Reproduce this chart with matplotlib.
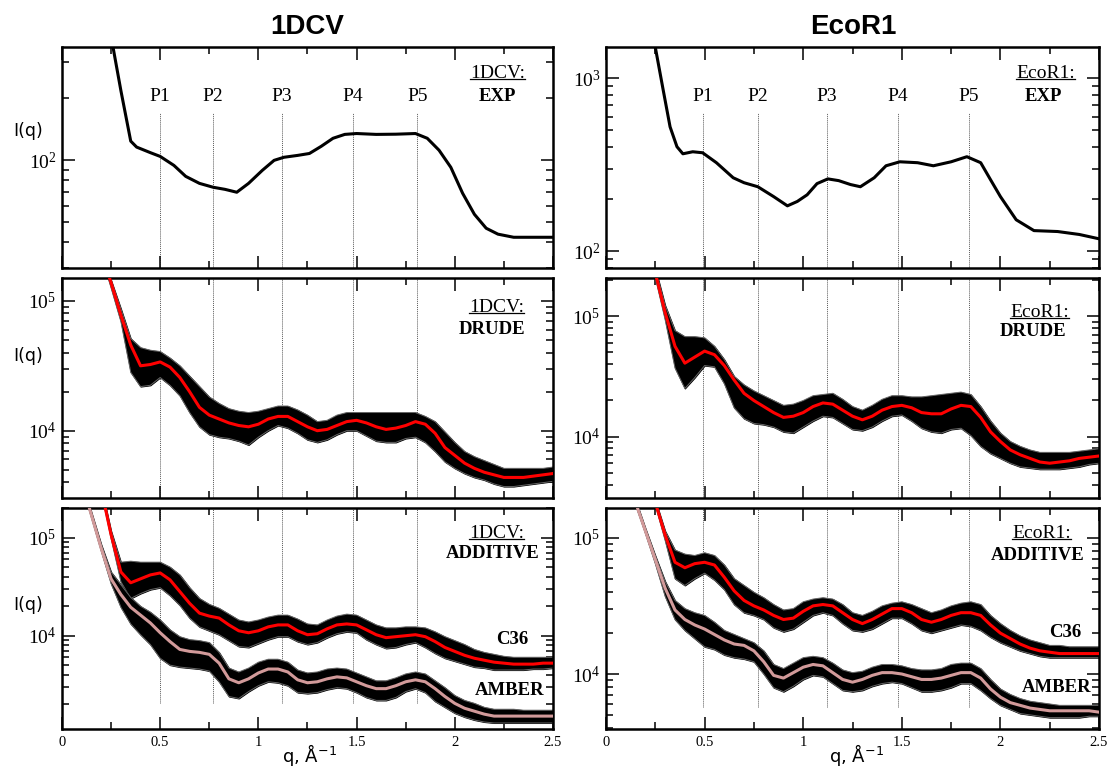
import numpy as np
import matplotlib
matplotlib.use("Agg")
import matplotlib.pyplot as plt
from matplotlib.ticker import MultipleLocator, LogLocator, NullFormatter, FormatStrFormatter
from matplotlib.lines import Line2D

plt.rcParams['font.family'] = ['Liberation Serif', 'DejaVu Serif']
plt.rcParams['mathtext.fontset'] = 'stix'
plt.rcParams['lines.solid_joinstyle'] = 'round'

# ---------------- data ----------------
# peak positions (q, 1/A)
peak_names = ["P1", "P2", "P3", "P4", "P5"]
peaks_1dcv = [0.50, 0.77, 1.12, 1.48, 1.81]
peaks_ecor1 = [0.49, 0.77, 1.12, 1.48, 1.84]

# experimental curves, I(q)
exp_1dcv_q = [0.20, 0.26, 0.30, 0.35, 0.38, 0.45, 0.50, 0.57, 0.63, 0.70, 0.77, 0.83,
              0.89, 0.95, 1.02, 1.08, 1.13, 1.20, 1.26, 1.32, 1.38, 1.44, 1.50, 1.60,
              1.70, 1.80, 1.86, 1.92, 1.98, 2.04, 2.10, 2.16, 2.22, 2.30, 2.40, 2.50]
exp_1dcv_I = [740, 354, 218, 124, 116, 109, 104.5, 94.5, 83.6, 77.3, 74, 72.3,
              70, 77.3, 89.4, 100, 103.5, 105.7, 108, 117, 128, 133.7, 135, 133.7,
              134, 135, 128, 112, 92.5, 69.2, 54.7, 46.8, 43.8, 42.3, 42.3, 42.3]

exp_ecor1_q = [0.20, 0.25, 0.29, 0.325, 0.36, 0.39, 0.44, 0.49, 0.56, 0.645, 0.70, 0.77,
               0.85, 0.92, 0.97, 1.02, 1.07, 1.125, 1.18, 1.24, 1.29, 1.36, 1.42, 1.49,
               1.58, 1.66, 1.75, 1.83, 1.90, 1.95, 2.00, 2.08, 2.17, 2.29, 2.40, 2.50]
exp_ecor1_I = [3090, 1514, 857, 524, 402, 366, 376, 371, 325, 266, 249, 236,
               207, 183, 194, 212, 246, 262, 256, 243, 236, 266, 312, 329,
               325, 312, 329, 352, 325, 259, 207, 152, 131.6, 130, 125, 118]

# q grid of the simulated ensembles
q = [0.10, 0.15, 0.20, 0.25, 0.30, 0.35, 0.40, 0.45, 0.50, 0.55,
     0.60, 0.65, 0.70, 0.75, 0.80, 0.85, 0.90, 0.95, 1.00, 1.05,
     1.10, 1.15, 1.20, 1.25, 1.30, 1.35, 1.40, 1.45, 1.50, 1.55,
     1.60, 1.65, 1.70, 1.75, 1.80, 1.85, 1.90, 1.95, 2.00, 2.05,
     2.10, 2.15, 2.20, 2.25, 2.30, 2.35, 2.40, 2.45, 2.50]

# ensembles, log10 I(q): mean curve, top and bottom of the black band
drude_1dcv_mid = [5.83, 5.60, 5.37, 5.14, 4.89, 4.66, 4.50, 4.51, 4.53, 4.49,
                  4.41, 4.30, 4.18, 4.12, 4.09, 4.06, 4.04, 4.03, 4.05, 4.09,
                  4.11, 4.11, 4.07, 4.03, 4.00, 4.01, 4.04, 4.07, 4.08, 4.06,
                  4.03, 4.01, 4.02, 4.04, 4.07, 4.05, 3.98, 3.87, 3.81, 3.75,
                  3.71, 3.68, 3.66, 3.64, 3.64, 3.64, 3.65, 3.66, 3.67]
drude_1dcv_hi = [5.86, 5.63, 5.40, 5.16, 4.94, 4.71, 4.64, 4.62, 4.61, 4.56,
                 4.50, 4.42, 4.34, 4.26, 4.21, 4.17, 4.15, 4.14, 4.15, 4.17,
                 4.19, 4.19, 4.16, 4.12, 4.07, 4.08, 4.12, 4.14, 4.14, 4.14,
                 4.14, 4.14, 4.14, 4.14, 4.14, 4.11, 4.07, 3.99, 3.91, 3.84,
                 3.80, 3.77, 3.74, 3.71, 3.71, 3.71, 3.71, 3.71, 3.72]
drude_1dcv_lo = [5.81, 5.58, 5.35, 5.10, 4.84, 4.45, 4.34, 4.35, 4.41, 4.35,
                 4.27, 4.14, 4.03, 3.97, 3.95, 3.94, 3.92, 3.89, 3.95, 4.00,
                 4.04, 4.02, 3.98, 3.93, 3.91, 3.93, 3.97, 4.00, 4.00, 3.96,
                 3.92, 3.91, 3.91, 3.94, 3.95, 3.91, 3.84, 3.76, 3.71, 3.67,
                 3.64, 3.62, 3.59, 3.57, 3.57, 3.58, 3.59, 3.60, 3.61]

drude_ecor1_mid = [6.35, 6.02, 5.69, 5.36, 5.03, 4.75, 4.61, 4.66, 4.71, 4.68,
                   4.59, 4.47, 4.36, 4.30, 4.25, 4.20, 4.16, 4.17, 4.20, 4.25,
                   4.28, 4.27, 4.22, 4.17, 4.14, 4.17, 4.22, 4.25, 4.26, 4.24,
                   4.20, 4.19, 4.19, 4.23, 4.26, 4.25, 4.16, 4.04, 3.96, 3.89,
                   3.85, 3.82, 3.79, 3.78, 3.79, 3.80, 3.82, 3.83, 3.84]
drude_ecor1_hi = [6.37, 6.04, 5.71, 5.40, 5.09, 4.88, 4.83, 4.83, 4.82, 4.75,
                  4.64, 4.50, 4.43, 4.38, 4.34, 4.30, 4.26, 4.27, 4.30, 4.34,
                  4.35, 4.36, 4.31, 4.25, 4.22, 4.26, 4.31, 4.34, 4.34, 4.33,
                  4.33, 4.34, 4.35, 4.36, 4.37, 4.35, 4.25, 4.13, 4.03, 3.96,
                  3.92, 3.89, 3.87, 3.87, 3.87, 3.87, 3.88, 3.89, 3.90]
drude_ecor1_lo = [6.32, 5.99, 5.66, 5.32, 4.97, 4.57, 4.40, 4.49, 4.59, 4.58,
                  4.44, 4.24, 4.15, 4.11, 4.10, 4.08, 4.04, 4.03, 4.08, 4.13,
                  4.17, 4.16, 4.11, 4.06, 4.05, 4.08, 4.13, 4.17, 4.18, 4.13,
                  4.07, 4.04, 4.03, 4.06, 4.07, 4.01, 3.92, 3.86, 3.82, 3.78,
                  3.75, 3.74, 3.73, 3.73, 3.73, 3.74, 3.75, 3.77, 3.78]

c36_1dcv_mid = [6.41, 5.95, 5.49, 5.03, 4.65, 4.54, 4.58, 4.62, 4.64, 4.57,
                4.45, 4.33, 4.23, 4.20, 4.18, 4.11, 4.05, 4.03, 4.05, 4.09,
                4.11, 4.11, 4.05, 4.01, 4.02, 4.07, 4.11, 4.12, 4.11, 4.06,
                4.01, 3.98, 3.99, 4.00, 4.01, 3.99, 3.94, 3.88, 3.84, 3.80,
                3.77, 3.75, 3.73, 3.72, 3.71, 3.71, 3.71, 3.72, 3.72]
c36_1dcv_hi = [6.44, 5.98, 5.52, 5.07, 4.75, 4.76, 4.75, 4.75, 4.75, 4.70,
               4.62, 4.49, 4.38, 4.32, 4.28, 4.22, 4.16, 4.14, 4.16, 4.19,
               4.21, 4.21, 4.17, 4.12, 4.11, 4.16, 4.20, 4.22, 4.21, 4.16,
               4.11, 4.08, 4.08, 4.09, 4.09, 4.08, 4.04, 3.99, 3.95, 3.91,
               3.86, 3.83, 3.81, 3.79, 3.78, 3.78, 3.78, 3.78, 3.78]
c36_1dcv_lo = [6.38, 5.92, 5.46, 4.99, 4.55, 4.38, 4.43, 4.47, 4.49, 4.41,
               4.31, 4.18, 4.09, 4.05, 4.01, 3.95, 3.89, 3.88, 3.92, 3.96,
               3.99, 3.99, 3.94, 3.91, 3.93, 3.98, 4.02, 4.04, 4.03, 3.96,
               3.91, 3.87, 3.88, 3.91, 3.93, 3.88, 3.82, 3.77, 3.74, 3.71,
               3.68, 3.67, 3.65, 3.65, 3.65, 3.65, 3.66, 3.66, 3.67]

amber_1dcv_mid = [5.57, 5.23, 4.89, 4.58, 4.42, 4.29, 4.21, 4.13, 4.03, 3.94,
                  3.86, 3.84, 3.83, 3.81, 3.72, 3.56, 3.52, 3.56, 3.62, 3.66,
                  3.66, 3.63, 3.55, 3.52, 3.53, 3.56, 3.58, 3.57, 3.53, 3.49,
                  3.46, 3.46, 3.49, 3.53, 3.55, 3.53, 3.46, 3.38, 3.31, 3.26,
                  3.23, 3.20, 3.18, 3.18, 3.18, 3.18, 3.18, 3.18, 3.18]
amber_1dcv_hi = [5.60, 5.26, 4.93, 4.65, 4.52, 4.39, 4.30, 4.24, 4.16, 4.06,
                 3.99, 3.96, 3.95, 3.93, 3.83, 3.67, 3.63, 3.67, 3.73, 3.76,
                 3.76, 3.73, 3.65, 3.62, 3.63, 3.66, 3.67, 3.66, 3.62, 3.58,
                 3.54, 3.54, 3.57, 3.61, 3.63, 3.61, 3.54, 3.47, 3.39, 3.34,
                 3.31, 3.27, 3.25, 3.25, 3.25, 3.24, 3.24, 3.24, 3.24]
amber_1dcv_lo = [5.54, 5.20, 4.86, 4.53, 4.29, 4.12, 4.01, 3.91, 3.77, 3.70,
                 3.68, 3.67, 3.66, 3.64, 3.53, 3.38, 3.36, 3.43, 3.49, 3.53,
                 3.52, 3.49, 3.42, 3.41, 3.42, 3.45, 3.47, 3.46, 3.42, 3.37,
                 3.34, 3.34, 3.37, 3.43, 3.46, 3.42, 3.33, 3.27, 3.21, 3.17,
                 3.14, 3.12, 3.11, 3.11, 3.11, 3.11, 3.11, 3.11, 3.11]

c36_ecor1_mid = [5.98, 5.74, 5.50, 5.26, 5.02, 4.82, 4.78, 4.81, 4.82, 4.80,
                 4.71, 4.61, 4.54, 4.50, 4.47, 4.43, 4.40, 4.41, 4.46, 4.50,
                 4.51, 4.50, 4.45, 4.40, 4.37, 4.40, 4.44, 4.48, 4.48, 4.45,
                 4.40, 4.38, 4.40, 4.43, 4.45, 4.45, 4.43, 4.36, 4.30, 4.26,
                 4.22, 4.19, 4.17, 4.16, 4.15, 4.15, 4.15, 4.15, 4.15]
c36_ecor1_hi = [6.00, 5.76, 5.52, 5.28, 5.05, 4.91, 4.88, 4.87, 4.89, 4.87,
                4.80, 4.70, 4.65, 4.60, 4.56, 4.51, 4.47, 4.48, 4.53, 4.55,
                4.56, 4.55, 4.51, 4.45, 4.43, 4.46, 4.50, 4.52, 4.53, 4.51,
                4.48, 4.45, 4.47, 4.50, 4.52, 4.53, 4.51, 4.43, 4.37, 4.32,
                4.28, 4.25, 4.23, 4.21, 4.21, 4.20, 4.20, 4.20, 4.20]
c36_ecor1_lo = [5.95, 5.71, 5.47, 5.24, 4.98, 4.70, 4.65, 4.70, 4.74, 4.69,
                4.62, 4.51, 4.45, 4.43, 4.40, 4.34, 4.31, 4.33, 4.38, 4.43,
                4.45, 4.43, 4.37, 4.32, 4.31, 4.33, 4.37, 4.41, 4.41, 4.37,
                4.32, 4.30, 4.32, 4.34, 4.36, 4.35, 4.32, 4.27, 4.23, 4.20,
                4.17, 4.15, 4.13, 4.12, 4.12, 4.12, 4.12, 4.12, 4.12]

amber_ecor1_mid = [5.47, 5.26, 5.05, 4.84, 4.63, 4.47, 4.40, 4.36, 4.33, 4.29,
                   4.25, 4.22, 4.21, 4.17, 4.09, 3.99, 3.97, 4.01, 4.05, 4.07,
                   4.06, 4.01, 3.96, 3.94, 3.96, 3.99, 4.01, 4.01, 4.00, 3.98,
                   3.96, 3.96, 3.97, 3.99, 4.01, 4.01, 3.97, 3.89, 3.83, 3.79,
                   3.77, 3.75, 3.74, 3.73, 3.73, 3.73, 3.73, 3.73, 3.72]
amber_ecor1_hi = [5.49, 5.28, 5.07, 4.87, 4.68, 4.54, 4.48, 4.45, 4.43, 4.38,
                  4.32, 4.29, 4.26, 4.23, 4.17, 4.07, 4.04, 4.08, 4.12, 4.13,
                  4.12, 4.08, 4.03, 4.01, 4.02, 4.05, 4.07, 4.07, 4.06, 4.04,
                  4.03, 4.03, 4.04, 4.07, 4.08, 4.08, 4.04, 3.96, 3.89, 3.85,
                  3.82, 3.80, 3.79, 3.78, 3.77, 3.77, 3.77, 3.77, 3.77]
amber_ecor1_lo = [5.45, 5.24, 5.03, 4.81, 4.57, 4.40, 4.32, 4.26, 4.20, 4.18,
                  4.14, 4.12, 4.11, 4.09, 4.00, 3.90, 3.87, 3.91, 3.96, 3.99,
                  3.98, 3.93, 3.88, 3.87, 3.88, 3.91, 3.93, 3.94, 3.93, 3.90,
                  3.87, 3.87, 3.88, 3.90, 3.93, 3.93, 3.88, 3.82, 3.77, 3.74,
                  3.71, 3.70, 3.69, 3.68, 3.68, 3.68, 3.68, 3.69, 3.69]

# ---------------- figure ----------------
fig = plt.figure(figsize=(11.07, 7.67), dpi=100)

col_x = [0.056, 0.5474]
col_w = [0.4435, 0.4454]
row_y = [0.6506, 0.3507, 0.0495]
row_h = [0.288, 0.2868, 0.288]

columns = [
    dict(name="1DCV", peaks=peaks_1dcv, qe=exp_1dcv_q, Ie=exp_1dcv_I,
         drude=(drude_1dcv_mid, drude_1dcv_hi, drude_1dcv_lo),
         c36=(c36_1dcv_mid, c36_1dcv_hi, c36_1dcv_lo),
         amber=(amber_1dcv_mid, amber_1dcv_hi, amber_1dcv_lo),
         ylims=[(30, 355), (3030, 1.5e5), (1117, 2.0e5)],
         tags=[(0.888, 0.882, 0.886, 0.778), (0.886, 0.868, 0.876, 0.768),
               (0.886, 0.887, 0.878, 0.796)],
         c36_xy=(0.918, 0.407), amber_xy=(0.912, 0.176), vmin=0.118),
    dict(name="EcoR1", peaks=peaks_ecor1, qe=exp_ecor1_q, Ie=exp_ecor1_I,
         drude=(drude_ecor1_mid, drude_ecor1_hi, drude_ecor1_lo),
         c36=(c36_ecor1_mid, c36_ecor1_hi, c36_ecor1_lo),
         amber=(amber_ecor1_mid, amber_ecor1_hi, amber_ecor1_lo),
         ylims=[(80, 1515), (3100, 2.07e5), (3945, 1.65e5)],
         tags=[(0.892, 0.882, 0.888, 0.778), (0.880, 0.845, 0.866, 0.755),
               (0.884, 0.887, 0.876, 0.787)],
         c36_xy=(0.931, 0.439), amber_xy=(0.915, 0.19), vmin=0.10),
]
kinds = ["EXP", "DRUDE", "ADDITIVE"]

underlined = []


def setup(ax, ylim, bottom):
    ax.set_yscale('log')
    ax.set_xlim(0, 2.5)
    ax.set_ylim(*ylim)
    ax.xaxis.set_major_locator(MultipleLocator(0.5))
    ax.xaxis.set_minor_locator(MultipleLocator(0.25))
    ax.xaxis.set_major_formatter(FormatStrFormatter('%g'))
    ax.yaxis.set_major_locator(LogLocator(base=10))
    ax.yaxis.set_minor_locator(LogLocator(base=10, subs=np.arange(2, 10)))
    ax.yaxis.set_minor_formatter(NullFormatter())
    ax.tick_params(which='both', direction='in', top=True, right=True, width=1.1)
    ax.tick_params(which='major', length=9, pad=4)
    ax.tick_params(which='minor', length=5)
    ax.tick_params(axis='y', labelsize=14)
    ax.tick_params(axis='x', labelsize=10.5, pad=5, labelbottom=bottom)
    for s in ax.spines.values():
        s.set_linewidth(1.8)


def band(ax, mid, hi, lo, color):
    hi = 10 ** np.array(hi)
    lo = 10 ** np.array(lo)
    ax.fill_between(q, lo, hi, color='black', lw=0.8, zorder=2)
    ax.plot(q, hi, color='0.4', lw=0.7, zorder=2)
    ax.plot(q, lo, color='0.4', lw=0.7, zorder=2)
    ax.plot(q, 10 ** np.array(mid), color=color, lw=2.2, zorder=3)


for c, col in enumerate(columns):
    axes = []
    for r in range(3):
        ax = fig.add_axes([col_x[c], row_y[r], col_w[c], row_h[r]])
        setup(ax, col["ylims"][r], r == 2)
        axes.append(ax)

        tx, ty, kx, ky = col["tags"][r]
        t = ax.text(tx, ty, col["name"] + ":", transform=ax.transAxes,
                    ha='center', va='center', fontsize=14)
        underlined.append(t)
        ax.text(kx, ky, kinds[r], transform=ax.transAxes, ha='center',
                va='center', fontsize=13.5, fontweight='bold')

        if c == 0:
            ax.set_ylabel("I(q)", rotation=0, family='DejaVu Sans', fontsize=12.5,
                          ha='center', va='center')
            ax.yaxis.set_label_coords(-0.069, [0.62, 0.645, 0.56][r])

    # experiment
    ax = axes[0]
    ax.plot(col["qe"], col["Ie"], color='black', lw=2.2, zorder=3)
    for p, name in zip(col["peaks"], peak_names):
        ax.axvline(p, ymin=0, ymax=0.70, color='0.35', lw=0.7, ls=(0, (1, 1)), zorder=1)
        ax.text(p, 0.775, name, transform=ax.get_xaxis_transform(),
                ha='center', va='center', fontsize=14)

    # Drude ensemble
    ax = axes[1]
    band(ax, *col["drude"], color='#ff0000')
    for p in col["peaks"]:
        ax.axvline(p, color='0.35', lw=0.7, ls=(0, (1, 1)), zorder=1)

    # additive force fields
    ax = axes[2]
    band(ax, *col["c36"], color='#ff0000')
    band(ax, *col["amber"], color='#d29a9a')
    for p in col["peaks"]:
        ax.axvline(p, ymin=col["vmin"], ymax=1, color='0.35', lw=0.7,
                   ls=(0, (1, 1)), zorder=1)
    ax.text(*col["c36_xy"], "C36", transform=ax.transAxes, ha='center',
            va='center', fontsize=13.5, fontweight='bold')
    ax.text(*col["amber_xy"], "AMBER", transform=ax.transAxes, ha='center',
            va='center', fontsize=13.5, fontweight='bold')
    ax.set_xlabel(r"q, Å$^{\mathregular{-1}}$", family='DejaVu Sans', fontsize=13)
    ax.xaxis.set_label_coords([0.505, 0.509][c], -0.118)
    ax.xaxis.label.set_va('center')

fig.text(0.2778, 0.965, "1DCV", ha='center', va='center', fontsize=20,
         fontweight='bold', family='Liberation Sans')
fig.text(0.7706, 0.965, "EcoR1", ha='center', va='center', fontsize=20,
         fontweight='bold', family='Liberation Sans')

# underline the structure names
fig.canvas.draw()
renderer = fig.canvas.get_renderer()
for t in underlined:
    bb = t.get_window_extent(renderer).transformed(fig.transFigure.inverted())
    y = bb.y0 + 0.004
    fig.add_artist(Line2D([bb.x0, bb.x1], [y, y], color='black', lw=0.9,
                          transform=fig.transFigure))

fig.savefig("out.png", dpi=100)
